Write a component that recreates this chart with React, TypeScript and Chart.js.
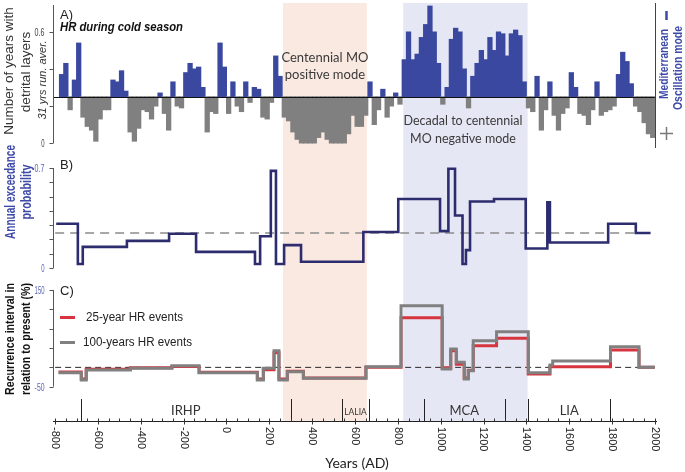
import React, { useEffect, useRef } from 'react';
import { Chart, registerables } from 'chart.js';
Chart.register(...registerables);

const W = 685;
const H = 472;

// ---------- Panel A: HR during cold season (31 yrs running average), 20-yr bins ----------
const HR_YEARS = [-780,-760,-740,-720,-700,-680,-660,-640,-620,-600,-580,-560,-540,-520,-500,-480,-460,-440,-420,-400,-380,-360,-340,-320,-300,-280,-260,-240,-220,-200,-180,-160,-140,-120,-100,-80,-60,-40,-20,0,20,40,60,80,100,120,140,160,180,200,220,240,260,280,300,320,340,360,380,400,420,440,460,480,500,520,540,560,580,600,620,640,660,680,700,720,740,760,780,800,820,840,860,880,900,920,940,960,980,1000,1020,1040,1060,1080,1100,1120,1140,1160,1180,1200,1220,1240,1260,1280,1300,1320,1340,1360,1380,1400,1420,1440,1460,1480,1500,1520,1540,1560,1580,1600,1620,1640,1660,1680,1700,1720,1740,1760,1780,1800,1820,1840,1860,1880,1900,1920,1940,1960,1980];
const HR_VALUES = [0.37,0.43,0.18,0.34,0.54,0.14,0.09,0.07,0.01,0.13,0.18,0.18,0.34,0.33,0.39,0.28,0.06,0.01,0.08,0.18,0.17,0.13,0.20,0.27,0.16,0.07,0.33,0.20,0.19,0.38,0.43,0.40,0.41,0.30,0.06,0.17,0.16,0.54,0.41,0.16,0.33,0.20,0.17,0.33,0.22,0.30,0.29,0.14,0.13,0.22,0.47,0.36,0.14,0.12,0.06,0.02,0.00,0.00,0.00,0.00,0.03,0.06,0.02,0.00,0.00,0.00,0.00,0.05,0.15,0.09,0.09,0.15,0.33,0.10,0.18,0.29,0.14,0.20,0.27,0.21,0.45,0.60,0.45,0.48,0.57,0.64,0.74,0.60,0.43,0.21,0.30,0.56,0.62,0.60,0.40,0.19,0.36,0.43,0.50,0.45,0.57,0.50,0.60,0.59,0.47,0.59,0.61,0.58,0.33,0.19,0.17,0.36,0.07,0.18,0.33,0.15,0.07,0.16,0.19,0.38,0.30,0.16,0.15,0.10,0.18,0.33,0.15,0.17,0.18,0.20,0.37,0.49,0.44,0.32,0.20,0.17,0.11,0.05,0.03];
const HR_BIN = 20;
const HR_BASELINE = 0.25;
const A_TICKS = [0, 0.2, 0.4, 0.6];
const A_TICK_LABELS = ['0', '', '', '0.6'];

// ---------- Panel B: annual exceedance probability (step series) ----------
const B_YEARS = [-795,-694,-671,-465,-268,-142,133,157,207,231,269,348,639,802,997,1036,1067,1102,1118,1137,1249,1397,1498,1510,1782,1911,1980];
const B_VALUES = [0.31,0.028,0.148,0.19,0.24,0.113,0.028,0.222,0.68,0.028,0.16,0.044,0.252,0.483,0.258,0.695,0.367,0.028,0.125,0.466,0.483,0.136,0.46,0.178,0.31,0.245,0.245];
const B_REFERENCE = 0.245;
const B_TICKS = [0, 0.1, 0.2, 0.3, 0.4, 0.5, 0.6, 0.7];
const B_TICK_LABELS = ['0', '', '', '', '', '', '', '0.7'];

// ---------- Panel C: recurrence interval relative to present (%) ----------
const C_YEARS = [-784,-678,-655,-449,-255,-128,144,172,222,245,284,359,651,815,1007,1047,1073,1110,1129,1152,1261,1409,1510,1523,1793,1926,2000];
const C_100YR = [-21,-36,-15.5,-12,-6.6,-21,-36,-12,24.5,-36,-19,-32.6,-8.6,117.5,-13.4,28,0.5,-34,-17,45,63.7,-21,-5,3.2,32.7,-9.9,-9.9];
const C_25YR = [-19.6,-34,-14,-11,-8,-20,-34,-15,20,-34,-18,-32,-10,92.7,-11,24.5,-3.7,-32,-16,34.8,50,-23.7,-8.6,-8.6,25.9,-9.9,-9.9];
const C_REFERENCE = -10;
const C_TICKS = [-50, -10, 30, 70, 110, 150];
const C_TICK_LABELS = ['-50', '', '', '', '', '150'];

// ---------- X axis, periods, shaded modes ----------
const X_MIN = -810;
const X_MAX = 2010;
const X_LABELS = [-800, -600, -400, -200, 0, 200, 400, 600, 800, 1000, 1200, 1400, 1600, 1800, 2000];
const X_MINOR_STEP = 50;
const PERIOD_BOUNDS = [-680, 300, 540, 665, 920, 1300, 1410, 1790];
const PERIOD_NAMES = ['IRHP', 'LALIA', 'MCA', 'LIA'];
const PERIOD_FROM = [-680, 540, 920, 1410];
const PERIOD_TO = [300, 665, 1300, 1790];
const MO_POSITIVE = [264, 655];
const MO_NEGATIVE = [825, 1406];

// ---------- styling / layout ----------
const AREA = { left: 53, right: 657, top: 0, bottom: 421 };
const BLUE_BAR = 'rgb(58,72,160)';
const GRAY_BAR = 'rgb(128,128,128)';
const PINK = 'rgb(250,233,224)';
const LAVENDER = 'rgb(230,231,244)';
const NAVY = 'rgb(45,44,110)';
const RED = 'rgb(214,52,62)';
const GRAY_LINE = 'rgb(128,128,128)';
const TITLE_BLUE = 'rgb(62,74,168)';
const TICK_BLUE = 'rgb(88,100,184)';
const SANS = '"Liberation Sans", Arial, sans-serif';
const HUMAN = 'Lato, "Open Sans", sans-serif';

function rangeFor(v1: number, p1: number, v2: number, p2: number) {
  const k = (p1 - p2) / (v2 - v1);
  return { min: v1 - (AREA.bottom - p1) / k, max: v1 + (p1 - AREA.top) / k };
}

const RANGE_A = rangeFor(0, 143, 0.6, 32);
const RANGE_B = rangeFor(0, 268, 0.7, 168);
const RANGE_C = rangeFor(-50, 386.7, 150, 290);

// draws text, condensing it horizontally (keeping glyph height) if wider than maxW
function drawText(ctx: CanvasRenderingContext2D, t: string, x: number, y: number, angle: number, font: string, color: string, align: CanvasTextAlign = 'left', maxW?: number) {
  ctx.save();
  ctx.translate(x, y);
  if (angle) ctx.rotate(angle);
  ctx.font = font;
  ctx.fillStyle = color;
  ctx.textBaseline = 'middle';
  ctx.textAlign = 'left';
  const w = ctx.measureText(t).width;
  const s = maxW && w > maxW ? maxW / w : 1;
  const drawn = w * s;
  const start = align === 'center' ? -drawn / 2 : align === 'right' ? -drawn : 0;
  ctx.translate(start, 0);
  ctx.scale(s, 1);
  ctx.fillText(t, 0, 0);
  ctx.restore();
}

function line(ctx: CanvasRenderingContext2D, x1: number, y1: number, x2: number, y2: number, color: string, w = 1) {
  ctx.beginPath();
  ctx.strokeStyle = color;
  ctx.lineWidth = w;
  ctx.moveTo(x1, y1);
  ctx.lineTo(x2, y2);
  ctx.stroke();
}

function yAxis(ctx: CanvasRenderingContext2D, scale: any, ticks: number[], labels: string[], color: string) {
  const ax = AREA.left + 0.5;
  const top = scale.getPixelForValue(ticks[ticks.length - 1]);
  const bot = scale.getPixelForValue(ticks[0]);
  line(ctx, ax, top, ax, bot, '#555', 1);
  ticks.forEach((t, i) => {
    const y = Math.round(scale.getPixelForValue(t)) + 0.5;
    line(ctx, ax - 4, y, ax, y, '#555', 1);
    if (labels[i]) drawText(ctx, labels[i], ax - 9, y, 0, `11.5px ${SANS}`, color, 'right', labels[i].length * 3.3);
  });
}

const decorations = {
  id: 'decorations',
  beforeDatasetsDraw(chart: any) {
    const { ctx } = chart;
    const xs = chart.scales.x;
    const yB = chart.scales.yB;
    const yC = chart.scales.yC;
    ctx.save();
    const px0 = xs.getPixelForValue(MO_POSITIVE[0]);
    const px1 = xs.getPixelForValue(MO_POSITIVE[1]);
    ctx.fillStyle = PINK;
    ctx.fillRect(px0, 3, px1 - px0, AREA.bottom - 3);
    const nx0 = xs.getPixelForValue(MO_NEGATIVE[0]);
    const nx1 = xs.getPixelForValue(MO_NEGATIVE[1]);
    ctx.fillStyle = LAVENDER;
    ctx.fillRect(nx0, 3, nx1 - nx0, AREA.bottom - 3);

    ctx.setLineDash([9, 6]);
    const by = yB.getPixelForValue(B_REFERENCE);
    line(ctx, xs.getPixelForValue(-800), by, xs.getPixelForValue(1985), by, 'rgb(140,140,140)', 1.3);
    ctx.setLineDash([6, 4]);
    const cy = yC.getPixelForValue(C_REFERENCE);
    line(ctx, xs.getPixelForValue(-800), cy, xs.getPixelForValue(2000), cy, 'rgb(40,40,40)', 1);
    ctx.setLineDash([]);
    ctx.restore();
  },
  afterDatasetsDraw(chart: any) {
    const { ctx } = chart;
    const xs = chart.scales.x;
    const yA = chart.scales.yA;
    const yB = chart.scales.yB;
    const yC = chart.scales.yC;
    const UP = -Math.PI / 2;
    ctx.save();

    // ---- panel A ----
    const base = Math.round(yA.getPixelForValue(HR_BASELINE)) + 0.5;
    line(ctx, AREA.left, base, xs.getPixelForValue(2000), base, '#111', 1);
    yAxis(ctx, yA, A_TICKS, A_TICK_LABELS, '#444');
    line(ctx, AREA.left + 0.5, 5, AREA.left + 0.5, yA.getPixelForValue(0.6), '#555', 1);
    const rx = Math.round(xs.getPixelForValue(2000)) + 0.5;
    line(ctx, rx, 3, rx, 148, '#444', 1);
    drawText(ctx, 'A)', 60, 15, 0, `13px ${SANS}`, '#222');
    drawText(ctx, 'HR during cold season', 60, 27, 0, `italic bold 13.5px ${SANS}`, '#111', 'left', 123);
    drawText(ctx, 'Number of years with', 9, 71, UP, `13.5px ${SANS}`, '#333', 'center', 134);
    drawText(ctx, 'detrital layers', 26, 72, UP, `13.5px ${SANS}`, '#333', 'center', 84);
    drawText(ctx, '31 yrs run. aver.', 43, 80, UP, `italic 11px ${SANS}`, '#333', 'center', 80);
    const cxPos = (xs.getPixelForValue(MO_POSITIVE[0]) + xs.getPixelForValue(MO_POSITIVE[1])) / 2;
    drawText(ctx, 'Centennial MO', cxPos, 58, 0, `13px ${HUMAN}`, '#3a3a3a', 'center');
    drawText(ctx, 'positive mode', cxPos, 75, 0, `13px ${HUMAN}`, '#3a3a3a', 'center');
    drawText(ctx, 'Decadal to centennial', 463, 121, 0, `12.5px ${HUMAN}`, '#3a3a3a', 'center');
    drawText(ctx, 'MO negative mode', 463, 139, 0, `12.5px ${HUMAN}`, '#3a3a3a', 'center');
    drawText(ctx, 'Mediterranean', 664, 64, UP, `bold 13px ${SANS}`, TITLE_BLUE, 'center', 70);
    drawText(ctx, 'Oscillation mode', 678, 68, UP, `bold 13px ${SANS}`, TITLE_BLUE, 'center', 84);
    line(ctx, 666.5, 11, 666.5, 20, TITLE_BLUE, 2.5);
    line(ctx, 660, 133.5, 673, 133.5, 'rgb(120,120,120)', 1.5);
    line(ctx, 666.5, 127, 666.5, 140, 'rgb(120,120,120)', 1.5);

    // ---- panel B ----
    yAxis(ctx, yB, B_TICKS, B_TICK_LABELS, TICK_BLUE);
    drawText(ctx, 'B)', 60, 165, 0, `13px ${SANS}`, '#222');
    drawText(ctx, 'Annual exceedance', 11, 192, UP, `bold 14px ${SANS}`, TITLE_BLUE, 'center', 94);
    drawText(ctx, 'probability', 27, 192, UP, `bold 14px ${SANS}`, TITLE_BLUE, 'center', 55);

    // ---- panel C ----
    yAxis(ctx, yC, C_TICKS, C_TICK_LABELS, TICK_BLUE);
    drawText(ctx, 'C)', 60, 291, 0, `13px ${SANS}`, '#222');
    drawText(ctx, 'Recurrence interval in', 10, 339, UP, `bold 13.5px ${SANS}`, '#111', 'center', 112);
    drawText(ctx, 'relation to present (%)', 26, 339, UP, `bold 13.5px ${SANS}`, '#111', 'center', 112);
    line(ctx, 60, 317.5, 75, 317.5, RED, 3);
    drawText(ctx, '25-year HR events', 86, 318, 0, `12.5px ${SANS}`, '#222', 'left', 97);
    line(ctx, 60, 342.5, 75, 342.5, GRAY_LINE, 3);
    drawText(ctx, '100-years HR events', 83, 343, 0, `12.5px ${SANS}`, '#222', 'left', 109);

    // ---- periods ----
    const axisY = AREA.bottom + 0.5;
    PERIOD_BOUNDS.forEach((b) => {
      const px = Math.round(xs.getPixelForValue(b)) + 0.5;
      line(ctx, px, 399, px, axisY, '#222', 1);
    });
    PERIOD_NAMES.forEach((n, i) => {
      const c = (xs.getPixelForValue(PERIOD_FROM[i]) + xs.getPixelForValue(PERIOD_TO[i])) / 2;
      const small = n === 'LALIA';
      drawText(ctx, n, c, small ? 412 : 411, 0, small ? `8.5px ${HUMAN}` : `13px ${HUMAN}`, '#333', 'center');
    });

    // ---- x axis ----
    line(ctx, AREA.left, axisY, AREA.right, axisY, '#222', 1.2);
    for (let v = -800; v <= 2000; v += X_MINOR_STEP) {
      const px = Math.round(xs.getPixelForValue(v)) + 0.5;
      line(ctx, px, axisY - 3, px, axisY, '#333', 1);
    }
    X_LABELS.forEach((v) => {
      const px = xs.getPixelForValue(v);
      line(ctx, Math.round(px) + 0.5, axisY, Math.round(px) + 0.5, axisY + 3, '#333', 1);
      drawText(ctx, String(v), px, 427, Math.PI / 2, `11px ${SANS}`, '#222', 'left');
    });
    drawText(ctx, 'Years (AD)', 357, 463, 0, `14px ${HUMAN}`, '#222', 'center');
    ctx.restore();
  },
};

export default function App() {
  const ref = useRef<HTMLCanvasElement>(null);
  useEffect(() => {
    if (!ref.current) return;
    const barData = HR_YEARS.map((yr, i) => ({ x: yr + HR_BIN / 2, y: [HR_BASELINE, HR_VALUES[i]] }));
    const barColors = HR_VALUES.map((v) => (v >= HR_BASELINE ? BLUE_BAR : GRAY_BAR));
    const chart = new Chart(ref.current, {
      type: 'bar',
      data: {
        datasets: [
          {
            type: 'line',
            label: '100-years HR events',
            data: C_YEARS.map((x, i) => ({ x, y: C_100YR[i] })),
            yAxisID: 'yC',
            borderColor: GRAY_LINE,
            borderWidth: 3,
            pointRadius: 0,
            stepped: true,
            fill: false,
            order: 1,
          } as any,
          {
            type: 'line',
            label: '25-year HR events',
            data: C_YEARS.map((x, i) => ({ x, y: C_25YR[i] })),
            yAxisID: 'yC',
            borderColor: RED,
            borderWidth: 3,
            pointRadius: 0,
            stepped: true,
            fill: false,
            order: 2,
          } as any,
          {
            type: 'line',
            label: 'Annual exceedance probability',
            data: B_YEARS.map((x, i) => ({ x, y: B_VALUES[i] })),
            yAxisID: 'yB',
            borderColor: NAVY,
            borderWidth: 2.6,
            pointRadius: 0,
            stepped: true,
            fill: false,
            order: 3,
          } as any,
          {
            type: 'bar',
            label: 'HR during cold season',
            data: barData as any,
            yAxisID: 'yA',
            backgroundColor: barColors,
            borderColor: barColors,
            borderWidth: 0,
            barPercentage: 1,
            categoryPercentage: 1,
            grouped: false,
            inflateAmount: 0.5,
            order: 4,
          } as any,
        ],
      },
      options: {
        responsive: false,
        animation: false,
        devicePixelRatio: 1,
        layout: { padding: { left: AREA.left, right: W - AREA.right, top: AREA.top, bottom: H - AREA.bottom } },
        plugins: { legend: { display: false }, tooltip: { enabled: false } },
        scales: {
          x: { type: 'linear', min: X_MIN, max: X_MAX, display: false, offset: false },
          yA: { type: 'linear', min: RANGE_A.min, max: RANGE_A.max, display: false },
          yB: { type: 'linear', min: RANGE_B.min, max: RANGE_B.max, display: false },
          yC: { type: 'linear', min: RANGE_C.min, max: RANGE_C.max, display: false },
        },
      } as any,
      plugins: [decorations],
    });
    return () => chart.destroy();
  }, []);
  return (
    <div style={{ position: 'absolute', left: 0, top: 0, width: W, height: H, background: '#fff' }}>
      <canvas ref={ref} width={W} height={H} style={{ display: 'block', width: W, height: H }} />
    </div>
  );
}
